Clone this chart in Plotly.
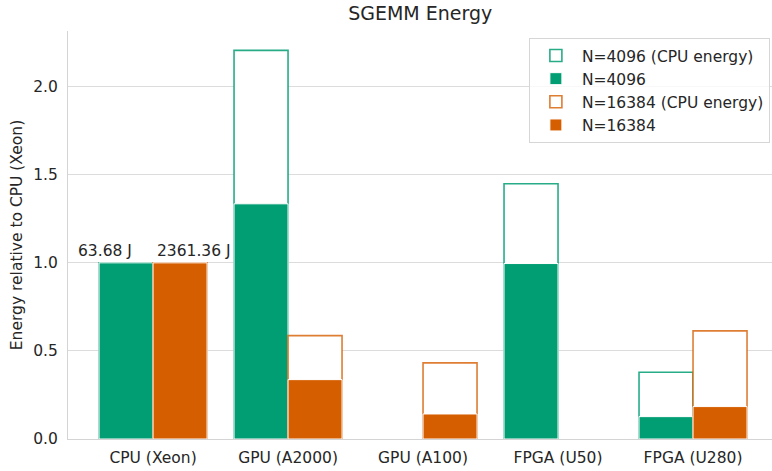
import plotly.graph_objects as go

categories = ["CPU (Xeon)", "GPU (A2000)", "GPU (A100)", "FPGA (U50)", "FPGA (U280)"]
n4096_cpu_energy = [1.0, 2.206, None, 1.449, 0.379]
n4096 = [1.0, 1.335, None, 0.996, 0.127]
n16384_cpu_energy = [1.0, 0.587, 0.432, None, 0.614]
n16384 = [1.0, 0.337, 0.142, None, 0.184]
cpu_labels = ["63.68 J", "2361.36 J"]
y_ticks = [0.0, 0.5, 1.0, 1.5, 2.0]

GREEN = "#029E73"
ORANGE = "#D55E00"
FONT = "DejaVu Sans"
TXT = "#262626"
FS = 15.5

fig = go.Figure()
fig.add_trace(go.Bar(x=categories, y=n4096_cpu_energy, name="N=4096 (CPU energy)", legendgroup="a",
                     width=0.4, offset=-0.4, marker=dict(color="white",
                     line=dict(color="rgba(2,158,115,0.85)", width=1.6))))
fig.add_trace(go.Bar(x=categories, y=n4096, name="N=4096", legendgroup="b",
                     width=0.4, offset=-0.4, marker=dict(color=GREEN,
                     line=dict(color="white", width=1))))
fig.add_trace(go.Bar(x=categories, y=n16384_cpu_energy, name="N=16384 (CPU energy)", legendgroup="c",
                     width=0.4, offset=0, marker=dict(color="white",
                     line=dict(color="rgba(213,94,0,0.8)", width=1.6))))
fig.add_trace(go.Bar(x=categories, y=n16384, name="N=16384", legendgroup="d",
                     width=0.4, offset=0, marker=dict(color=ORANGE,
                     line=dict(color="white", width=1))))

fig.add_annotation(x=categories[0], y=n4096[0], text=cpu_labels[0], showarrow=False,
                   xanchor="right", yanchor="bottom", xshift=-19, yshift=1,
                   font=dict(family=FONT, size=FS, color=TXT))
fig.add_annotation(x=categories[0], y=n16384[0], text=cpu_labels[1], showarrow=False,
                   xanchor="left", yanchor="bottom", xshift=2, yshift=1,
                   font=dict(family=FONT, size=FS, color=TXT))

fig.update_layout(
    width=772, height=471,
    barmode="overlay",
    plot_bgcolor="white", paper_bgcolor="white",
    margin=dict(l=68, r=0, t=31, b=32, autoexpand=False),
    font=dict(family=FONT, size=FS, color=TXT),
    title=dict(text="SGEMM Energy", x=0.5443, xanchor="center", y=0.985, yanchor="top",
               font=dict(family=FONT, size=19, color=TXT)),
    legend=dict(x=0.997, y=0.983, xanchor="right", yanchor="top",
                bgcolor="rgba(255,255,255,0.8)", bordercolor="#d6d6d6", borderwidth=1,
                font=dict(family=FONT, size=FS, color=TXT), tracegroupgap=0,
                itemwidth=42),
    showlegend=True,
)
fig.update_xaxes(range=[-0.63, 4.585], showgrid=False, showline=True, linecolor="#d4d4d4",
                 linewidth=1.2, ticks="", tickfont=dict(size=FS), ticklabelstandoff=4)
fig.update_yaxes(range=[0, 2.316], tickvals=y_ticks, ticktext=[f"{v:.1f}" for v in y_ticks],
                 showgrid=True, gridcolor="#dcdcdc", gridwidth=1.2, showline=True,
                 linecolor="#d4d4d4", linewidth=1.2, zeroline=False, ticks="",
                 tickfont=dict(size=FS), ticklabelstandoff=6,
                 title=dict(text="Energy relative to CPU (Xeon)", font=dict(size=FS), standoff=6))

fig.write_html("out.html", config={"displayModeBar": False},
               post_script="document.body.style.margin='0px';document.body.style.overflow='hidden';")
